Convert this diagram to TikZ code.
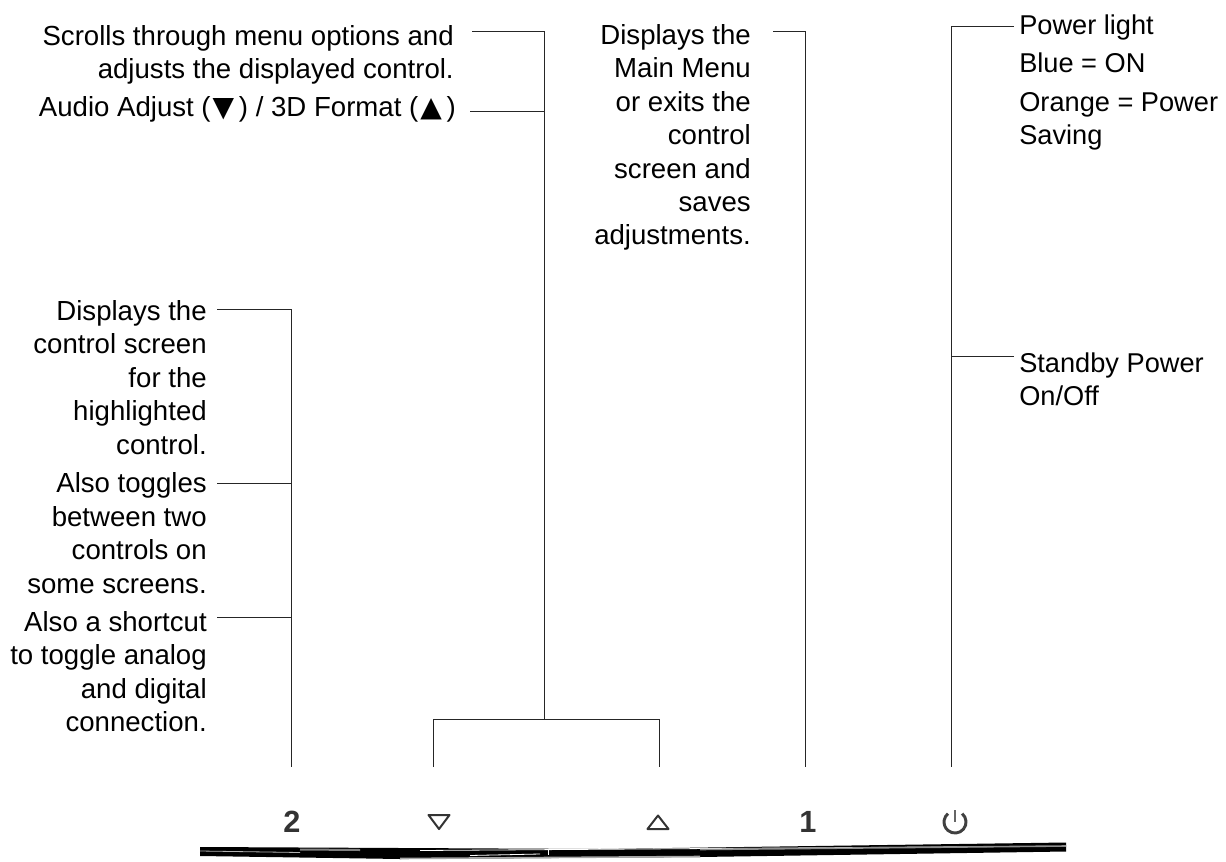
\documentclass[tikz,border=0pt]{standalone}
\usepackage{fontspec}
\setmainfont{Liberation Sans}
\newfontfamily\symfont{DejaVu Sans}
\newcommand{\tridown}{{\kern1.5pt\symfont\fontsize{21}{21}\selectfont ▼\kern3.5pt}}
\newcommand{\triup}{{\kern1.5pt\symfont\fontsize{21}{21}\selectfont ▲\kern3.5pt}}
\tikzset{
	leader/.style={draw=black!85,line width=0.75pt},
	lefttext/.style={align=right,inner sep=0pt,anchor=base east,font=\fontsize{20.7}{25.05}\selectfont},
	righttext/.style={align=left,inner sep=0pt,anchor=base west,font=\fontsize{20.4}{25.05}\selectfont},
	keyface/.style={inner sep=0pt,text=black!80,font=\fontsize{23}{23}\selectfont\bfseries},
	keymark/.style={draw=black!80,line width=1.5pt,line join=round},
}
\begin{document}
\begin{tikzpicture}[x=0.75pt,y=-0.75pt]

		\useasboundingbox (0,0) rectangle (1226,862);

		\coordinate (S1) at (472,32);
		\coordinate (S2) at (470,112);
		\coordinate (ST) at (544,32);
		\coordinate (SM) at (544,112);
		\coordinate (SB) at (544,719);
		\coordinate (DT) at (433,719);
		\coordinate (UT) at (659,719);
		\coordinate (DB) at (433,767);
		\coordinate (UB) at (659,767);

		\coordinate (M1) at (773,32);
		\coordinate (MT) at (805,32);
		\coordinate (MB) at (805,767);

		\coordinate (P1) at (1014,27);
		\coordinate (P2) at (1014,357);
		\coordinate (PT) at (951,27);
		\coordinate (PM) at (951,357);
		\coordinate (PB) at (951,767);

		\coordinate (T1) at (217,310);
		\coordinate (T2) at (217,483);
		\coordinate (T3) at (217,617);
		\coordinate (TT) at (291,310);
		\coordinate (TM) at (291,483);
		\coordinate (TN) at (291,617);
		\coordinate (TB) at (291,767);

		% last line of each block sits on the given y
		\node [lefttext] (scroll) at (454,78.5) {Scrolls through menu options and\\adjusts the displayed control.};
		\node [lefttext] (audio) at (456,117) {Audio Adjust (\tridown) / 3D Format (\triup)};
		\node [lefttext] (menu) at (751,245) {Displays the\\Main Menu\\or exits the\\control\\screen and\\saves\\adjustments.};
		\node [righttext] (light) at (1019,35) {Power light};
		\node [righttext] (blue) at (1019,73) {Blue = ON};
		\node [righttext] (orange) at (1019,144.8) {Orange = Power\\Saving};
		\node [righttext] (standby) at (1019,405.5) {Standby Power\\On/Off};
		\node [lefttext] (select) at (207,454) {Displays the\\control screen\\for the\\highlighted\\control.};
		\node [lefttext] (toggle) at (207,593) {Also toggles\\between two\\controls on\\some screens.};
		\node [lefttext] (cut) at (207,731.5) {Also a shortcut\\to toggle analog\\and digital\\connection.};

		\draw [leader] (S1)--(ST)--(SB);
		\draw [leader] (S2)--(SM);
		\draw [leader] (DB)--(DT)--(UT)--(UB);
		\draw [leader] (M1)--(MT)--(MB);
		\draw [leader] (P1)--(PT)--(PB);
		\draw [leader] (P2)--(PM);
		\draw [leader] (T1)--(TT)--(TB);
		\draw [leader] (T2)--(TM);
		\draw [leader] (T3)--(TN);

		\node [keyface] (two) at (292,822) {2};
		\node [keyface] (one) at (808,822) {1};
		\draw [keymark] (428.5,815)--(449.5,815)--(439,829)--cycle; %down
		\draw [keymark] (647.5,829)--(668.5,829)--(658,815.5)--cycle; %up
		\draw [line width=2.2pt,draw=black!75] (962.1,813.6) arc (-50:230:11);
		\draw [line width=2.2pt,draw=black!60] (955,810)--(955,822);

		% bar
		\fill (200,847)--(600,849)--(1066,842.5)--(1066,851.5)--(700,857)--(400,859)--(200,856)--cycle;
		\draw [black!30,line width=0.6pt] (200,851)--(300,852.5);
		\draw [black!50,line width=1.5pt] (300,849.5)--(360,850);
		\draw [white,line width=0.6pt] (420,850.5)--(1000,846.5);
		\draw [black!45,line width=1.2pt] (700,849.5)--(1066,846);
		\draw [white,line width=0.6pt] (470,855.5)--(540,854);
		\draw [black!35,line width=1.2pt] (400,858.5)--(700,856.5);
		\draw [white,line width=0.5pt] (548,849)--(548,855);

\end{tikzpicture}
\end{document}
